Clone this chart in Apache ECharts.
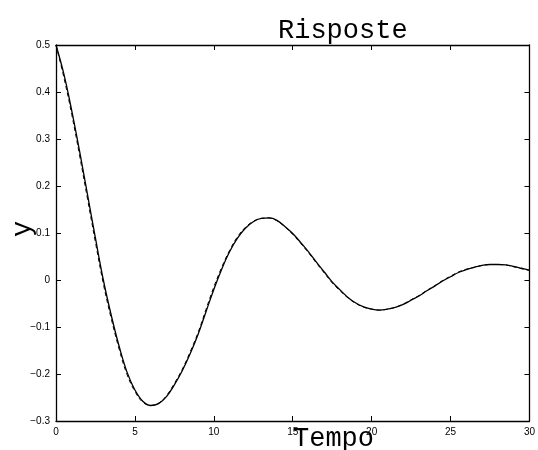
<!DOCTYPE html>
<html>
<head>
<meta charset="utf-8">
<style>
  html, body { margin: 0; padding: 0; background: #fff; }
  #chart { width: 538px; height: 450px; }
</style>
<script src="https://cdn.jsdelivr.net/npm/echarts@6/dist/echarts.min.js"></script>
</head>
<body>
<div id="chart"></div>
<script>
// Time samples (s)
const tempo = [0, 0.5, 1, 1.5, 2, 2.5, 3, 3.5, 4, 4.5, 5, 5.5, 6, 6.5, 7, 7.5, 8, 8.5, 9, 9.5,
  10, 10.5, 11, 11.5, 12, 12.5, 13, 13.5, 14, 14.5, 15, 15.5, 16, 16.5, 17, 17.5, 18, 18.5, 19, 19.5,
  20, 20.5, 21, 21.5, 22, 22.5, 23, 23.5, 24, 24.5, 25, 25.5, 26, 26.5, 27, 27.5, 28, 28.5, 29, 29.5, 30];

// Response 1 (solid)
const rispostaA = [0.500, 0.438, 0.360, 0.273, 0.181, 0.089, 0.000, -0.075, -0.141, -0.196,
  -0.234, -0.258, -0.267, -0.263, -0.248, -0.223, -0.193, -0.157, -0.116, -0.068,
  -0.020, 0.023, 0.060, 0.089, 0.110, 0.124, 0.131, 0.132, 0.127, 0.114,
  0.099, 0.080, 0.060, 0.038, 0.017, -0.004, -0.021, -0.037, -0.049, -0.057,
  -0.062, -0.064, -0.062, -0.058, -0.052, -0.043, -0.034, -0.023, -0.013, -0.002,
  0.007, 0.016, 0.022, 0.027, 0.031, 0.033, 0.033, 0.032, 0.029, 0.025, 0.021];

// Response 2 (dashed)
const rispostaB = [0.500, 0.431, 0.352, 0.264, 0.172, 0.080, -0.008, -0.082, -0.147, -0.201,
  -0.237, -0.260, -0.267, -0.262, -0.246, -0.220, -0.190, -0.153, -0.112, -0.063,
  -0.015, 0.027, 0.063, 0.092, 0.112, 0.125, 0.131, 0.132, 0.126, 0.113,
  0.097, 0.078, 0.058, 0.036, 0.015, -0.006, -0.023, -0.038, -0.050, -0.058,
  -0.062, -0.064, -0.062, -0.058, -0.051, -0.042, -0.033, -0.022, -0.012, -0.001,
  0.008, 0.017, 0.023, 0.027, 0.031, 0.033, 0.033, 0.032, 0.028, 0.024, 0.020];

const xTicks = { min: 0, max: 30, step: 5 };
const yTicks = { min: -0.3, max: 0.5, step: 0.1 };

const pairs = (xs, ys) => xs.map((x, i) => [x, ys[i]]);

const tickFont = { fontFamily: 'Liberation Sans, Arial, sans-serif', fontSize: 10, color: '#000' };
const axisLineStyle = { color: '#000', width: 1.3 };

const fmtY = v => {
  const r = Math.round(v * 10) / 10;
  return r < 0 ? '\u2212' + Math.abs(r) : String(r);
};

const chart = echarts.init(document.getElementById('chart'), null, { renderer: 'canvas' });

const baseX = {
  type: 'value', min: xTicks.min, max: xTicks.max, interval: xTicks.step,
  axisLine: { show: true, lineStyle: axisLineStyle, onZero: false },
  axisTick: { show: true, inside: true, length: 5, lineStyle: { color: '#000', width: 1 } },
  splitLine: { show: false }
};
const baseY = {
  type: 'value', min: yTicks.min, max: yTicks.max, interval: yTicks.step,
  axisLine: { show: true, lineStyle: axisLineStyle, onZero: false },
  axisTick: { show: true, inside: true, length: 5, lineStyle: { color: '#000', width: 1 } },
  splitLine: { show: false }
};

chart.setOption({
  animation: false,
  backgroundColor: '#fff',
  grid: { left: 56, right: 8, top: 45, bottom: 29, containLabel: false },
  title: {
    text: 'Risposte', left: 273, top: 12,
    textStyle: { fontFamily: 'Liberation Mono, monospace', fontSize: 27, fontWeight: 'normal', color: '#000' }
  },
  xAxis: [
    Object.assign({}, baseX, { position: 'bottom', axisLabel: Object.assign({ margin: 6 }, tickFont) }),
    Object.assign({}, baseX, { position: 'top', axisLabel: { show: false } })
  ],
  yAxis: [
    Object.assign({}, baseY, { position: 'left', axisLabel: Object.assign({ margin: 6, formatter: fmtY }, tickFont) }),
    Object.assign({}, baseY, { position: 'right', axisLabel: { show: false } })
  ],
  graphic: [
    {
      type: 'text', left: 293, top: 425,
      style: { text: 'Tempo', font: '27px "Liberation Mono", monospace', fill: '#000' }
    },
    {
      type: 'text', x: 9, y: 237, rotation: Math.PI / 2,
      style: { text: 'y', font: '27px "Liberation Mono", monospace', fill: '#000' }
    }
  ],
  series: [
    {
      type: 'line', data: pairs(tempo, rispostaA), smooth: 0.4, showSymbol: false,
      lineStyle: { color: '#000', width: 1.3 }
    },
    {
      type: 'line', data: pairs(tempo, rispostaB), smooth: 0.4, showSymbol: false,
      lineStyle: { color: '#000', width: 1, type: [4, 3] }
    }
  ]
});
</script>
</body>
</html>
